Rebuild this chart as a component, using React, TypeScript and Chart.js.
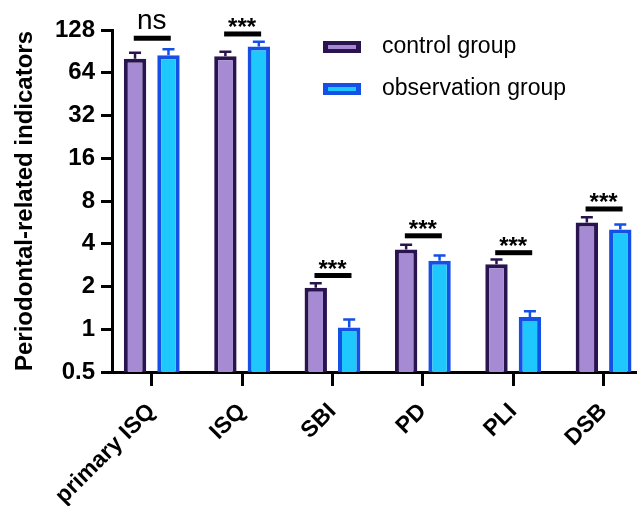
import React, { useEffect, useRef } from "react";
import { Chart, registerables } from "chart.js";

Chart.register(...registerables);

const categories = ["primary ISQ", "ISQ", "SBI", "PD", "PLI", "DSB"];
const seriesNames = ["control group", "observation group"];
const controlMeans = [80.2, 83.8, 1.96, 3.65, 2.87, 5.64];
const controlErr = [8.2, 6.0, 0.15, 0.29, 0.23, 0.51];
const obsMeans = [85, 97.8, 1.03, 3.04, 1.22, 5.04];
const obsErr = [8.7, 8.2, 0.14, 0.27, 0.12, 0.42];
const sigLabels = ["ns", "***", "***", "***", "***", "***"];
const sigLevels = [112, 120, 2.39, 4.55, 3.46, 7.03];
const yTicks = [0.5, 1, 2, 4, 8, 16, 32, 64, 128];

const FONT = "Arial, 'Liberation Sans', sans-serif";
const C_FILL = "#A68BD4";
const C_BORDER = "#2A1450";
const O_FILL = "#1EC8FD";
const O_BORDER = "#1450E6";

export default function App() {
  const ref = useRef<HTMLCanvasElement | null>(null);
  useEffect(() => {
    if (!ref.current) return;
    const errs = [controlErr, obsErr];
    const means = [controlMeans, obsMeans];
    const errColors = [C_BORDER, O_BORDER];
    const overlay = {
      id: "overlay",
      afterDatasetsDraw(chart: any) {
        const ctx = chart.ctx;
        const y = chart.scales.y;
        const x = chart.scales.x;
        ctx.save();
        for (let d = 0; d < 2; d++) {
          const meta = chart.getDatasetMeta(d);
          meta.data.forEach((bar: any, i: number) => {
            const top = y.getPixelForValue(means[d][i]);
            const up = y.getPixelForValue(means[d][i] + errs[d][i]);
            ctx.strokeStyle = errColors[d];
            ctx.lineWidth = 2.5;
            ctx.beginPath();
            ctx.moveTo(bar.x, top);
            ctx.lineTo(bar.x, up);
            ctx.moveTo(bar.x - 6, up);
            ctx.lineTo(bar.x + 6, up);
            ctx.stroke();
          });
        }
        ctx.fillStyle = "#000";
        ctx.textAlign = "center";
        ctx.textBaseline = "alphabetic";
        categories.forEach((_, i) => {
          const cx = x.getPixelForValue(i);
          const ly = y.getPixelForValue(sigLevels[i]);
          ctx.fillRect(cx - 18, ly - 2.5, 37, 5);
          if (sigLabels[i] === "ns") {
            ctx.font = `28px ${FONT}`;
            ctx.fillText(sigLabels[i], cx, ly - 9);
          } else {
            ctx.font = `bold 24px ${FONT}`;
            ctx.fillText(sigLabels[i], cx, ly + 1);
          }
        });
        ctx.restore();
      },
      afterDraw(chart: any) {
        const ctx = chart.ctx;
        ctx.save();
        const items = [
          { name: seriesNames[0], fill: C_FILL, border: C_BORDER, y: 47 },
          { name: seriesNames[1], fill: O_FILL, border: O_BORDER, y: 89 },
        ];
        items.forEach((it) => {
          ctx.fillStyle = it.border;
          ctx.fillRect(323, it.y - 6, 38, 12);
          ctx.fillStyle = it.fill;
          ctx.fillRect(328, it.y - 2, 28, 4);
          ctx.fillStyle = "#000";
          ctx.font = `23px ${FONT}`;
          ctx.textAlign = "left";
          ctx.textBaseline = "middle";
          ctx.fillText(it.name, 382, it.y);
        });
        ctx.restore();
      },
    };

    const chart = new Chart(ref.current, {
      type: "bar",
      data: {
        datasets: [
          {
            label: seriesNames[0],
            data: controlMeans.map((v, i) => ({ x: i, y: v })),
            backgroundColor: C_FILL,
            borderColor: C_BORDER,
            borderWidth: 4,
            borderSkipped: "start",
          },
          {
            label: seriesNames[1],
            data: obsMeans.map((v, i) => ({ x: i, y: v })),
            backgroundColor: O_FILL,
            borderColor: O_BORDER,
            borderWidth: 4,
            borderSkipped: "start",
          },
        ],
      },
      options: {
        responsive: false,
        animation: false,
        layout: { padding: { top: 30, right: 0, left: 0, bottom: 0 } },
        datasets: { bar: { categoryPercentage: 0.74, barPercentage: 0.67 } },
        plugins: { legend: { display: false }, tooltip: { enabled: false } },
        scales: {
          x: {
            type: "linear",
            offset: false,
            min: -0.44,
            max: 5.37,
            afterBuildTicks: (s: any) => {
              s.ticks = categories.map((_, i) => ({ value: i }));
            },
            afterFit: (s: any) => {
              s.height = 134;
            },
            ticks: {
              callback: (v: any) => categories[v] ?? "",
              minRotation: 45,
              maxRotation: 45,
              autoSkip: false,
              color: "#000",
              font: { family: FONT, size: 23, weight: "bold" },
              padding: 12,
            },
            grid: { offset: false, drawOnChartArea: false, color: "#000", lineWidth: 3, tickLength: 14 },
            border: { display: true, color: "#000", width: 3 },
          },
          y: {
            type: "logarithmic",
            min: 0.5,
            max: 128,
            afterBuildTicks: (s: any) => {
              s.ticks = yTicks.map((v) => ({ value: v }));
            },
            afterFit: (s: any) => {
              s.width = 112;
            },
            ticks: {
              callback: (v: any) => String(v),
              color: "#000",
              font: { family: FONT, size: 24, weight: "bold" },
              padding: 6,
              autoSkip: false,
            },
            grid: { drawOnChartArea: false, color: "#000", lineWidth: 3, tickLength: 11 },
            border: { display: true, color: "#000", width: 3 },
            title: {
              display: true,
              text: "Periodontal-related indicators",
              color: "#000",
              font: { family: FONT, size: 24, weight: "bold" },
              padding: { top: 11, bottom: 0 },
            },
          },
        },
      },
      plugins: [overlay],
    } as any);
    return () => chart.destroy();
  }, []);
  return (
    <div style={{ position: "absolute", left: 0, top: 0, width: 637, height: 506 }}>
      <canvas ref={ref} width={637} height={506} style={{ display: "block" }} />
    </div>
  );
}
